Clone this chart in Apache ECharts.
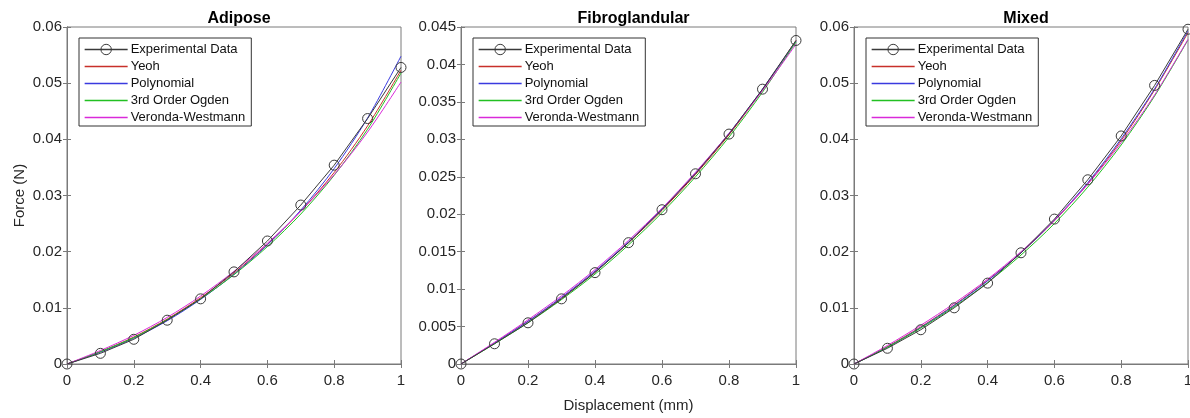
<!DOCTYPE html>
<html><head><meta charset="utf-8">
<script src="https://cdn.jsdelivr.net/npm/echarts@6/dist/echarts.min.js"></script>
<style>html,body{margin:0;padding:0;background:#fff}#c{width:1190px;height:418px}</style>
</head><body><div id="c"></div>
<script>
const displacement = [0, 0.1, 0.2, 0.3, 0.4, 0.5, 0.6, 0.7, 0.8, 0.9, 1.0];
const panelTitles = ['Adipose', 'Fibroglandular', 'Mixed'];
const seriesNames = ['Experimental Data', 'Yeoh', 'Polynomial', '3rd Order Ogden', 'Veronda-Westmann'];

const adiposeExp   = [0, 0.0019, 0.0044, 0.0078, 0.0116, 0.0164, 0.0219, 0.0283, 0.0354, 0.0437, 0.0528];
const adiposeYeoh  = [0, 0.0022, 0.0048, 0.0080, 0.0118, 0.0162, 0.0213, 0.0272, 0.0341, 0.0424, 0.0523];
const adiposePoly  = [0, 0.0021, 0.0046, 0.0077, 0.0115, 0.0160, 0.0212, 0.0274, 0.0348, 0.0438, 0.0548];
const adiposeOgden = [0, 0.0022, 0.0047, 0.0079, 0.0116, 0.0159, 0.0209, 0.0267, 0.0336, 0.0418, 0.0518];
const adiposeVW    = [0, 0.0024, 0.0051, 0.0083, 0.0121, 0.0165, 0.0215, 0.0272, 0.0337, 0.0413, 0.0502];

const fibroExp   = [0, 0.0027, 0.0055, 0.0087, 0.0122, 0.0162, 0.0206, 0.0254, 0.0307, 0.0367, 0.0432];
const fibroYeoh  = [0, 0.0028, 0.0057, 0.0088, 0.0123, 0.0162, 0.0205, 0.0253, 0.0306, 0.0366, 0.0432];
const fibroPoly  = [0, 0.0028, 0.0057, 0.0089, 0.0124, 0.0163, 0.0207, 0.0255, 0.0308, 0.0367, 0.0431];
const fibroOgden = [0, 0.0027, 0.0055, 0.0086, 0.0120, 0.0159, 0.0202, 0.0250, 0.0303, 0.0363, 0.0430];
const fibroVW    = [0, 0.0029, 0.0059, 0.0091, 0.0126, 0.0165, 0.0208, 0.0256, 0.0308, 0.0365, 0.0427];

const mixedExp   = [0, 0.0028, 0.0061, 0.0100, 0.0144, 0.0198, 0.0258, 0.0328, 0.0406, 0.0496, 0.0596];
const mixedYeoh  = [0, 0.0031, 0.0066, 0.0105, 0.0149, 0.0198, 0.0255, 0.0321, 0.0398, 0.0488, 0.0590];
const mixedPoly  = [0, 0.0030, 0.0065, 0.0104, 0.0148, 0.0198, 0.0256, 0.0323, 0.0401, 0.0490, 0.0593];
const mixedOgden = [0, 0.0030, 0.0064, 0.0102, 0.0145, 0.0194, 0.0250, 0.0315, 0.0390, 0.0477, 0.0577];
const mixedVW    = [0, 0.0033, 0.0069, 0.0108, 0.0151, 0.0200, 0.0256, 0.0320, 0.0394, 0.0479, 0.0578];

const yMax = [0.06, 0.045, 0.06];
const yInterval = [0.01, 0.005, 0.01];
const xTicks = [0, 0.2, 0.4, 0.6, 0.8, 1];

const panelData = [
  [adiposeExp, adiposeYeoh, adiposePoly, adiposeOgden, adiposeVW],
  [fibroExp, fibroYeoh, fibroPoly, fibroOgden, fibroVW],
  [mixedExp, mixedYeoh, mixedPoly, mixedOgden, mixedVW]
];
const colors = ['#3a3a3a', '#c8302a', '#3a3adf', '#22c022', '#d92ad9'];

const font = 'Liberation Sans, Arial, sans-serif';
const axisColor = '#7a7a7a';
const textColor = '#262626';
const grids = [
  {left: 67, top: 27, width: 334, height: 337},
  {left: 461, top: 27, width: 335, height: 337},
  {left: 854, top: 27, width: 334, height: 337}
];
const legendLeft = [79, 473, 866];

const option = {
  animation: false,
  backgroundColor: '#fff',
  title: [], grid: [], xAxis: [], yAxis: [], legend: [], series: []
};

grids.forEach((g, i) => {
  option.grid.push(Object.assign({show: true, borderColor: axisColor, borderWidth: 1, backgroundColor: '#fff',
    containLabel: false, outerBoundsMode: 'none'}, g));
  option.title.push({
    text: panelTitles[i], left: g.left + g.width / 2, top: 6, textAlign: 'center',
    textStyle: {fontFamily: font, fontSize: 16, fontWeight: 'bold', color: '#000'}
  });
  const baseX = {
    type: 'value', gridIndex: i, min: 0, max: 1, interval: 0.2,
    axisLine: {show: true, lineStyle: {color: axisColor}},
    axisTick: {show: true, inside: true, length: 4, lineStyle: {color: axisColor}},
    splitLine: {show: false}
  };
  option.xAxis.push(Object.assign({}, baseX, {
    position: 'bottom',
    axisLabel: {fontFamily: font, fontSize: 15, color: textColor, margin: 9,
      formatter: v => xTicks.indexOf(Math.round(v * 10) / 10) >= 0 ? String(Math.round(v * 10) / 10) : ''},
    name: i === 1 ? 'Displacement (mm)' : '', nameLocation: 'middle', nameGap: 34,
    nameTextStyle: {fontFamily: font, fontSize: 15, color: textColor}
  }));
  option.xAxis.push(Object.assign({}, baseX, {position: 'top', axisLabel: {show: false}}));
  const baseY = {
    type: 'value', gridIndex: i, min: 0, max: yMax[i], interval: yInterval[i],
    axisLine: {show: true, lineStyle: {color: axisColor}},
    axisTick: {show: true, inside: true, length: 4, lineStyle: {color: axisColor}},
    splitLine: {show: false}
  };
  option.yAxis.push(Object.assign({}, baseY, {
    position: 'left',
    axisLabel: {fontFamily: font, fontSize: 15, color: textColor, margin: 5,
      formatter: v => String(parseFloat(v.toFixed(4)))},
    name: i === 0 ? 'Force (N)' : '', nameLocation: 'middle', nameGap: 40,
    nameTextStyle: {fontFamily: font, fontSize: 15, color: textColor}
  }));
  option.yAxis.push(Object.assign({}, baseY, {position: 'right', axisLabel: {show: false}}));

  option.legend.push({
    orient: 'vertical', left: legendLeft[i], top: 38,
    data: seriesNames.map((n, k) => k === 0
      ? {name: n, itemStyle: {color: 'rgba(0,0,0,0)', borderColor: '#3a3a3a', borderWidth: 1},
         lineStyle: {color: colors[k], width: 1.3}}
      : {name: n, itemStyle: {opacity: 0}, lineStyle: {color: colors[k], width: 1.3}}),
    itemWidth: 43, itemHeight: 13, itemGap: 4,
    padding: [5, 6, 2, 5], borderColor: '#333', borderWidth: 1, backgroundColor: '#fff',
    textStyle: {fontFamily: font, fontSize: 13, color: '#111', padding: [0, 0, 0, -2]},
    selectedMode: false
  });

  panelData[i].forEach((vals, k) => {
    const s = {
      name: seriesNames[k], type: 'line', xAxisIndex: 2 * i, yAxisIndex: 2 * i,
      data: displacement.map((x, j) => [x, vals[j]]),
      lineStyle: {color: colors[k], width: 1},
      z: k === 0 ? 5 : 3
    };
    if (k === 0) {
      s.symbol = 'circle'; s.symbolSize = 10; s.showSymbol = true;
      s.itemStyle = {color: 'rgba(0,0,0,0)', borderColor: '#3a3a3a', borderWidth: 1};
    } else {
      s.symbol = 'circle'; s.showSymbol = false; s.smooth = 0.3;
      s.itemStyle = {color: colors[k]};
    }
    option.series.push(s);
  });
});

const chart = echarts.init(document.getElementById('c'), null, {renderer: 'canvas'});
chart.setOption(option);
</script></body></html>
